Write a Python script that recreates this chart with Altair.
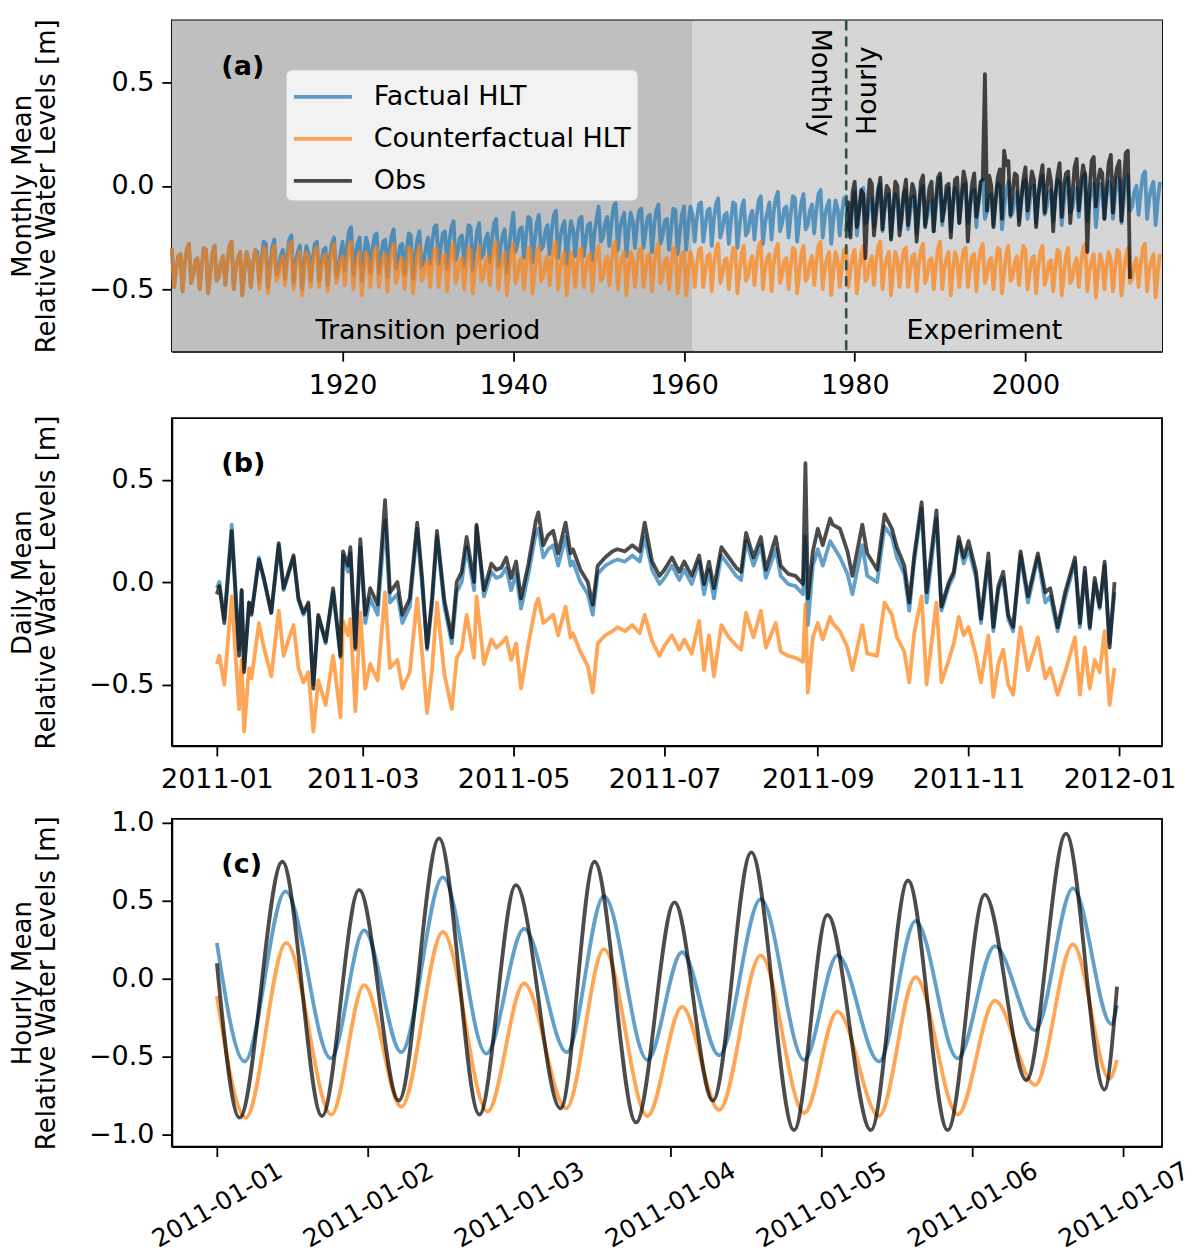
import altair as alt
import numpy as np
import pandas as pd

# ------------------------------------------------------------------ series
SERIES = ["Factual HLT", "Counterfactual HLT", "Obs"]
SERIES_COLORS = ["#1f77b4", "#ff7f0e", "#000000"]

# ---------------- panel (a): monthly means, read at quarterly resolution (one row = one decade)
A_T0 = 1900.0
A_DT = 0.25
factual_a = [
    -0.30, -0.49, -0.41, -0.34, -0.33, -0.51, -0.38, -0.31, -0.28, -0.47, -0.43, -0.36, -0.35, -0.50, -0.39, -0.30, -0.31, -0.52, -0.42, -0.33,
    -0.29, -0.46, -0.44, -0.37, -0.34, -0.48, -0.37, -0.29, -0.27, -0.50, -0.40, -0.35, -0.32, -0.53, -0.41, -0.32, -0.36, -0.49, -0.38, -0.31,
    -0.32, -0.47, -0.36, -0.27, -0.28, -0.49, -0.39, -0.30, -0.26, -0.43, -0.41, -0.34, -0.31, -0.45, -0.34, -0.26, -0.24, -0.47, -0.37, -0.32,
    -0.29, -0.50, -0.38, -0.29, -0.33, -0.46, -0.35, -0.28, -0.27, -0.46, -0.38, -0.31, -0.30, -0.48, -0.35, -0.28, -0.25, -0.44, -0.40, -0.33,
    -0.27, -0.41, -0.30, -0.22, -0.20, -0.43, -0.33, -0.28, -0.25, -0.46, -0.34, -0.25, -0.29, -0.42, -0.31, -0.24, -0.23, -0.42, -0.34, -0.27,
    -0.26, -0.44, -0.31, -0.24, -0.21, -0.40, -0.36, -0.29, -0.28, -0.43, -0.32, -0.23, -0.24, -0.45, -0.35, -0.26, -0.22, -0.39, -0.37, -0.30,
    -0.25, -0.38, -0.27, -0.20, -0.19, -0.38, -0.30, -0.23, -0.22, -0.40, -0.27, -0.20, -0.17, -0.36, -0.32, -0.25, -0.24, -0.39, -0.28, -0.19,
    -0.20, -0.41, -0.31, -0.22, -0.18, -0.35, -0.33, -0.26, -0.23, -0.37, -0.26, -0.18, -0.16, -0.39, -0.29, -0.24, -0.21, -0.42, -0.30, -0.21,
    -0.13, -0.32, -0.28, -0.21, -0.20, -0.35, -0.24, -0.15, -0.16, -0.37, -0.27, -0.18, -0.14, -0.31, -0.29, -0.22, -0.19, -0.33, -0.22, -0.14,
    -0.12, -0.35, -0.25, -0.20, -0.17, -0.38, -0.26, -0.17, -0.21, -0.34, -0.23, -0.16, -0.15, -0.34, -0.26, -0.19, -0.18, -0.36, -0.23, -0.16,
    -0.10, -0.27, -0.25, -0.18, -0.15, -0.29, -0.18, -0.10, -0.08, -0.31, -0.21, -0.16, -0.13, -0.34, -0.22, -0.13, -0.17, -0.30, -0.19, -0.12,
    -0.11, -0.30, -0.22, -0.15, -0.14, -0.32, -0.19, -0.12, -0.09, -0.28, -0.24, -0.17, -0.16, -0.31, -0.20, -0.11, -0.12, -0.33, -0.23, -0.14,
    -0.10, -0.31, -0.19, -0.10, -0.14, -0.27, -0.16, -0.09, -0.08, -0.27, -0.19, -0.12, -0.11, -0.29, -0.16, -0.09, -0.06, -0.25, -0.21, -0.14,
    -0.13, -0.28, -0.17, -0.08, -0.09, -0.30, -0.20, -0.11, -0.07, -0.24, -0.22, -0.15, -0.12, -0.26, -0.15, -0.07, -0.05, -0.28, -0.18, -0.13,
    -0.08, -0.26, -0.13, -0.06, -0.03, -0.22, -0.18, -0.11, -0.10, -0.25, -0.14, -0.05, -0.06, -0.27, -0.17, -0.08, -0.04, -0.21, -0.19, -0.12,
    -0.09, -0.23, -0.12, -0.04, -0.02, -0.25, -0.15, -0.10, -0.07, -0.28, -0.16, -0.07, -0.11, -0.24, -0.13, -0.06, -0.05, -0.24, -0.16, -0.09,
    -0.03, -0.24, -0.14, -0.05, -0.01, -0.18, -0.16, -0.09, -0.06, -0.20, -0.09, -0.01, 0.01, -0.22, -0.12, -0.07, -0.04, -0.25, -0.13, -0.04,
    -0.08, -0.21, -0.10, -0.03, -0.02, -0.21, -0.13, -0.06, -0.05, -0.23, -0.10, -0.03, 0.00, -0.19, -0.15, -0.08, -0.07, -0.22, -0.11, -0.02,
    0.04, -0.19, -0.09, -0.04, -0.01, -0.22, -0.10, -0.01, -0.05, -0.18, -0.07, 0.00, 0.01, -0.18, -0.10, -0.03, -0.02, -0.20, -0.07, 0.00,
    0.03, -0.16, -0.12, -0.05, -0.04, -0.19, -0.08, 0.01, 0.00, -0.21, -0.11, -0.02, 0.02, -0.15, -0.13, -0.06, -0.03, -0.17, -0.06, 0.02,
    0.03, -0.16, -0.08, -0.01, 0.00, -0.18, -0.05, 0.02, 0.05, -0.14, -0.10, -0.03, -0.02, -0.17, -0.06, 0.03, 0.02, -0.19, -0.09, 0.00,
    0.04, -0.13, -0.11, -0.04, -0.01, -0.15, -0.04, 0.04, 0.06, -0.17, -0.07, -0.02, 0.01, -0.20, -0.08, 0.01, -0.03, -0.16, -0.05, 0.02,
    -0.01, -0.16, -0.05, 0.04, 0.03, -0.18, -0.08, 0.01, 0.05, -0.12, -0.10, -0.03, 0.00, -0.14, -0.03, 0.05,
    0.07, -0.16, -0.06, -0.01, 0.02, -0.19, -0.07, 0.02,
]
counter_a = [
    -0.30, -0.49, -0.41, -0.34, -0.33, -0.51, -0.38, -0.31, -0.28, -0.47, -0.43, -0.36, -0.35, -0.50, -0.39, -0.30, -0.31, -0.52, -0.42, -0.33,
    -0.29, -0.46, -0.44, -0.37, -0.34, -0.48, -0.37, -0.29, -0.27, -0.50, -0.40, -0.35, -0.32, -0.53, -0.41, -0.32, -0.36, -0.49, -0.38, -0.31,
    -0.35, -0.50, -0.39, -0.30, -0.31, -0.52, -0.42, -0.33, -0.29, -0.46, -0.44, -0.37, -0.34, -0.48, -0.37, -0.29, -0.27, -0.50, -0.40, -0.35,
    -0.32, -0.53, -0.41, -0.32, -0.36, -0.49, -0.38, -0.31, -0.30, -0.49, -0.41, -0.34, -0.33, -0.51, -0.38, -0.31, -0.28, -0.47, -0.43, -0.36,
    -0.34, -0.48, -0.37, -0.29, -0.27, -0.50, -0.40, -0.35, -0.32, -0.53, -0.41, -0.32, -0.36, -0.49, -0.38, -0.31, -0.30, -0.49, -0.41, -0.34,
    -0.33, -0.51, -0.38, -0.31, -0.28, -0.47, -0.43, -0.36, -0.35, -0.50, -0.39, -0.30, -0.31, -0.52, -0.42, -0.33, -0.29, -0.46, -0.44, -0.37,
    -0.36, -0.49, -0.38, -0.31, -0.30, -0.49, -0.41, -0.34, -0.33, -0.51, -0.38, -0.31, -0.28, -0.47, -0.43, -0.36, -0.35, -0.50, -0.39, -0.30,
    -0.31, -0.52, -0.42, -0.33, -0.29, -0.46, -0.44, -0.37, -0.34, -0.48, -0.37, -0.29, -0.27, -0.50, -0.40, -0.35, -0.32, -0.53, -0.41, -0.32,
    -0.28, -0.47, -0.43, -0.36, -0.35, -0.50, -0.39, -0.30, -0.31, -0.52, -0.42, -0.33, -0.29, -0.46, -0.44, -0.37, -0.34, -0.48, -0.37, -0.29,
    -0.27, -0.50, -0.40, -0.35, -0.32, -0.53, -0.41, -0.32, -0.36, -0.49, -0.38, -0.31, -0.30, -0.49, -0.41, -0.34, -0.33, -0.51, -0.38, -0.31,
    -0.29, -0.46, -0.44, -0.37, -0.34, -0.48, -0.37, -0.29, -0.27, -0.50, -0.40, -0.35, -0.32, -0.53, -0.41, -0.32, -0.36, -0.49, -0.38, -0.31,
    -0.30, -0.49, -0.41, -0.34, -0.33, -0.51, -0.38, -0.31, -0.28, -0.47, -0.43, -0.36, -0.35, -0.50, -0.39, -0.30, -0.31, -0.52, -0.42, -0.33,
    -0.32, -0.53, -0.41, -0.32, -0.36, -0.49, -0.38, -0.31, -0.30, -0.49, -0.41, -0.34, -0.33, -0.51, -0.38, -0.31, -0.28, -0.47, -0.43, -0.36,
    -0.35, -0.50, -0.39, -0.30, -0.31, -0.52, -0.42, -0.33, -0.29, -0.46, -0.44, -0.37, -0.34, -0.48, -0.37, -0.29, -0.27, -0.50, -0.40, -0.35,
    -0.33, -0.51, -0.38, -0.31, -0.28, -0.47, -0.43, -0.36, -0.35, -0.50, -0.39, -0.30, -0.31, -0.52, -0.42, -0.33, -0.29, -0.46, -0.44, -0.37,
    -0.34, -0.48, -0.37, -0.29, -0.27, -0.50, -0.40, -0.35, -0.32, -0.53, -0.41, -0.32, -0.36, -0.49, -0.38, -0.31, -0.30, -0.49, -0.41, -0.34,
    -0.31, -0.52, -0.42, -0.33, -0.29, -0.46, -0.44, -0.37, -0.34, -0.48, -0.37, -0.29, -0.27, -0.50, -0.40, -0.35, -0.32, -0.53, -0.41, -0.32,
    -0.36, -0.49, -0.38, -0.31, -0.30, -0.49, -0.41, -0.34, -0.33, -0.51, -0.38, -0.31, -0.28, -0.47, -0.43, -0.36, -0.35, -0.50, -0.39, -0.30,
    -0.27, -0.50, -0.40, -0.35, -0.32, -0.53, -0.41, -0.32, -0.36, -0.49, -0.38, -0.31, -0.30, -0.49, -0.41, -0.34, -0.33, -0.51, -0.38, -0.31,
    -0.28, -0.47, -0.43, -0.36, -0.35, -0.50, -0.39, -0.30, -0.31, -0.52, -0.42, -0.33, -0.29, -0.46, -0.44, -0.37, -0.34, -0.48, -0.37, -0.29,
    -0.31, -0.50, -0.42, -0.35, -0.34, -0.52, -0.39, -0.32, -0.29, -0.48, -0.44, -0.37, -0.36, -0.51, -0.40, -0.31, -0.32, -0.53, -0.43, -0.34,
    -0.30, -0.47, -0.45, -0.38, -0.35, -0.49, -0.38, -0.30, -0.28, -0.51, -0.41, -0.36, -0.33, -0.54, -0.42, -0.33, -0.37, -0.50, -0.39, -0.32,
    -0.36, -0.51, -0.40, -0.31, -0.32, -0.53, -0.43, -0.34, -0.30, -0.47, -0.45, -0.38, -0.35, -0.49, -0.38, -0.30,
    -0.28, -0.51, -0.41, -0.36, -0.33, -0.54, -0.42, -0.33,
]
# observations: quarterly samples from 1979
OBS_T0 = 1979.0
OBS_DT = 0.25
obs_a = [
    -0.22, -0.08, -0.25, -0.03,   0.02, -0.20, -0.12, -0.02,  -0.04, -0.35, -0.10, 0.03,   0.01, -0.24, -0.14, -0.03,
    0.04, -0.21, -0.09, 0.00,    -0.02, -0.26, -0.12, 0.02,    0.00, -0.24, -0.16, -0.04,   0.03, -0.19, -0.08, 0.01,
    -0.03, -0.27, -0.13, 0.02,    0.05, -0.20, -0.10, -0.01,   0.02, -0.22, -0.07, 0.04,    0.06, -0.17, -0.11, 0.00,
    0.01, -0.25, -0.09, 0.03,     0.04, -0.18, -0.06, 0.07,    0.02, -0.27, -0.10, 0.01,    0.06, -0.15, -0.08, 0.02,
    0.03, 0.54, -0.12, 0.05,      0.00, -0.20, -0.07, 0.04,    0.08, -0.16, 0.17, 0.10,     0.12, -0.14, -0.03, 0.06,
    0.05, -0.19, -0.08, 0.03,     0.09, -0.12, -0.02, 0.07,    0.03, -0.20, -0.06, 0.04,    0.10, -0.13, -0.01, 0.08,
    0.02, -0.22, -0.05, 0.05,     0.11, -0.15, 0.00, 0.06,     0.07, -0.18, -0.04, 0.09,    0.13, -0.12, 0.01, 0.10,
    0.05, -0.32, -0.03, 0.12,     0.14, -0.10, 0.02, 0.08,     0.06, -0.16, -0.02, 0.11,    0.15, -0.13, 0.03, 0.09,
    0.12, -0.17, 0.00, 0.16,      0.17, -0.45,
]
PERIOD_LABELS = ["Transition period", "Experiment"]
PERIOD_START = [1900, 1961]
PERIOD_END = [1961, 2016]
PERIOD_FILL = ["#bfbfbf", "#d6d6d6"]
PERIOD_LABEL_X = [1930, 1995.2]
PERIOD_LABEL_Y = -0.74
SWITCH_YEAR = 1979
SWITCH_LABELS = ["Monthly", "Hourly"]
SWITCH_LABEL_X = [1975.0, 1982.5]

# ---------------- panel (b): daily means in 2011 (day offset from 2011-01-01)
b_day = [
    0, 1, 3, 6, 9, 10, 11, 13, 14, 17,
    19, 22, 25, 27, 29, 31, 33, 35, 37, 39,
    41, 44, 47, 50, 51, 53, 54, 56, 58, 60,
    62, 65, 68, 70, 73, 75, 78, 81, 83, 85,
    87, 89, 92, 95, 97, 99, 101, 104, 105, 108,
    111, 113, 115, 117, 119, 121, 123, 126, 129, 130,
    132, 134, 136, 138, 141, 143, 144, 147, 150, 152,
    154, 157, 160, 162, 165, 168, 171, 173, 176, 179,
    181, 184, 187, 189, 192, 195, 197, 199, 201, 204,
    207, 210, 212, 214, 217, 220, 222, 226, 228, 231,
    234, 237, 238, 239, 241, 243, 245, 248, 249, 252,
    255, 257, 261, 263, 267, 270, 273, 275, 278, 280,
    282, 285, 287, 291, 293, 296, 298, 300, 302, 304,
    307, 309, 312, 314, 316, 318, 320, 322, 325, 328,
    332, 335, 337, 340, 343, 347, 349, 351, 353, 355,
    357, 359, 361, 363,
]
obs_b = [
    -0.06, -0.02, -0.20, 0.25, -0.36, -0.04, -0.44, -0.10, -0.16, 0.11,
    0.02, -0.15, 0.19, -0.03, 0.05, 0.13, -0.08, -0.15, -0.10, -0.52,
    -0.16, -0.29, -0.03, -0.36, 0.15, 0.08, 0.17, -0.32, 0.21, -0.16,
    -0.03, -0.11, 0.40, -0.05, 0.00, -0.16, -0.08, 0.29, 0.02, -0.32,
    -0.08, 0.25, -0.09, -0.27, 0.00, 0.05, 0.22, 0.00, 0.28, -0.04,
    0.09, 0.06, 0.07, 0.12, 0.02, 0.10, -0.08, 0.09, 0.30, 0.34,
    0.18, 0.23, 0.25, 0.14, 0.29, 0.14, 0.16, 0.06, 0.00, -0.11,
    0.08, 0.12, 0.15, 0.16, 0.15, 0.18, 0.15, 0.29, 0.10, 0.03,
    0.06, 0.12, 0.05, 0.10, 0.03, 0.13, -0.01, 0.10, -0.03, 0.17,
    0.12, 0.07, 0.05, 0.24, 0.12, 0.22, 0.06, 0.22, 0.08, 0.04,
    0.03, -0.01, 0.58, -0.08, 0.15, 0.26, 0.18, 0.31, 0.28, 0.26,
    0.15, 0.03, 0.28, 0.14, 0.06, 0.33, 0.26, 0.17, 0.08, -0.10,
    0.13, 0.39, -0.05, 0.35, -0.12, 0.00, 0.05, 0.22, 0.12, 0.20,
    0.05, -0.18, 0.14, -0.22, -0.02, 0.05, -0.16, -0.22, 0.15, -0.07,
    0.14, -0.05, -0.03, -0.22, -0.05, 0.12, -0.20, 0.07, -0.22, 0.02,
    -0.12, 0.10, -0.32, 0.00,
]
factual_b = [
    -0.03, 0.00, -0.18, 0.28, -0.33, -0.04, -0.42, -0.10, -0.15, 0.12,
    0.01, -0.15, 0.18, -0.04, 0.04, 0.12, -0.09, -0.16, -0.11, -0.50,
    -0.17, -0.30, -0.05, -0.37, 0.13, 0.05, 0.14, -0.33, 0.17, -0.20,
    -0.08, -0.16, 0.30, -0.10, -0.06, -0.20, -0.12, 0.26, -0.02, -0.33,
    -0.11, 0.22, -0.12, -0.30, -0.05, 0.00, 0.17, -0.04, 0.27, -0.07,
    0.05, 0.02, 0.03, 0.07, -0.04, 0.04, -0.13, 0.04, 0.24, 0.26,
    0.12, 0.16, 0.18, 0.08, 0.22, 0.08, 0.10, 0.00, -0.06, -0.16,
    0.04, 0.08, 0.10, 0.11, 0.10, 0.13, 0.10, 0.22, 0.06, -0.01,
    0.02, 0.08, 0.01, 0.06, -0.01, 0.10, -0.06, 0.06, -0.08, 0.13,
    0.08, 0.03, 0.01, 0.20, 0.08, 0.18, 0.02, 0.16, 0.03, -0.01,
    -0.02, -0.06, 0.22, -0.21, 0.08, 0.16, 0.08, 0.20, 0.18, 0.12,
    0.04, -0.06, 0.18, 0.03, 0.00, 0.27, 0.22, 0.12, 0.04, -0.14,
    0.10, 0.36, -0.10, 0.31, -0.14, -0.02, 0.03, 0.20, 0.09, 0.16,
    0.02, -0.20, 0.10, -0.24, -0.04, 0.02, -0.18, -0.24, 0.13, -0.10,
    0.12, -0.10, -0.07, -0.24, -0.08, 0.10, -0.22, 0.05, -0.23, 0.00,
    -0.13, 0.08, -0.30, -0.05,
]
counter_b = [
    -0.40, -0.36, -0.50, -0.07, -0.62, -0.38, -0.73, -0.42, -0.47, -0.20,
    -0.32, -0.46, -0.14, -0.36, -0.28, -0.21, -0.42, -0.49, -0.44, -0.73,
    -0.48, -0.60, -0.36, -0.66, -0.19, -0.26, -0.18, -0.63, -0.15, -0.52,
    -0.40, -0.48, -0.05, -0.42, -0.38, -0.52, -0.44, -0.08, -0.35, -0.64,
    -0.43, -0.10, -0.45, -0.62, -0.37, -0.33, -0.16, -0.37, -0.07, -0.40,
    -0.28, -0.32, -0.30, -0.27, -0.38, -0.30, -0.52, -0.30, -0.11, -0.08,
    -0.20, -0.18, -0.16, -0.26, -0.12, -0.27, -0.25, -0.34, -0.41, -0.54,
    -0.30, -0.26, -0.24, -0.22, -0.24, -0.21, -0.25, -0.16, -0.29, -0.36,
    -0.31, -0.26, -0.33, -0.28, -0.35, -0.19, -0.43, -0.26, -0.46, -0.21,
    -0.27, -0.31, -0.33, -0.15, -0.27, -0.14, -0.32, -0.20, -0.34, -0.36,
    -0.37, -0.39, -0.11, -0.54, -0.27, -0.20, -0.28, -0.17, -0.20, -0.24,
    -0.32, -0.43, -0.21, -0.35, -0.36, -0.10, -0.16, -0.27, -0.34, -0.49,
    -0.25, -0.07, -0.50, -0.10, -0.49, -0.38, -0.30, -0.17, -0.26, -0.22,
    -0.36, -0.49, -0.26, -0.56, -0.40, -0.33, -0.50, -0.55, -0.22, -0.43,
    -0.27, -0.47, -0.42, -0.55, -0.44, -0.27, -0.55, -0.32, -0.52, -0.38,
    -0.44, -0.24, -0.60, -0.42,
]

# ---------------- panel (c): hourly means, turning points (hours after 2011-01-01 00:00)
c_obs_hour = [0, 3.6, 10.4, 16.7, 22.6, 28.9, 35.3, 41.7, 47.5, 54.6, 60.0, 66.6, 72.7,
              78.8, 84.9, 91.7, 97.0, 103.9, 109.8, 116.1, 122.0, 128.6, 134.9, 141.0, 143.0]
c_obs = [0.10, -0.89, 0.75, -0.88, 0.57, -0.78, 0.90, -0.87, 0.60, -0.83, 0.75, -0.92, 0.49,
         -0.78, 0.81, -0.97, 0.41, -0.97, 0.63, -0.97, 0.54, -0.65, 0.93, -0.71, -0.05]
c_fac_hour = [0, 4.4, 10.9, 18.1, 23.4, 29.3, 35.9, 42.8, 48.8, 55.6, 61.5, 68.4, 73.9,
              79.8, 86.4, 93.3, 98.6, 105.2, 111.0, 117.7, 123.6, 130.0, 136.0, 142.1, 143.0]
c_fac = [0.23, -0.53, 0.56, -0.51, 0.31, -0.47, 0.65, -0.48, 0.32, -0.47, 0.53, -0.52, 0.17,
         -0.49, 0.51, -0.52, 0.15, -0.53, 0.37, -0.51, 0.21, -0.33, 0.58, -0.29, -0.17]
c_cf_hour = [0, 4.6, 11.0, 18.2, 23.4, 29.3, 35.9, 43.0, 48.8, 55.5, 61.5, 68.4, 73.9,
             79.8, 86.4, 93.3, 98.6, 105.2, 111.0, 117.7, 123.6, 130.0, 136.0, 141.8, 143.0]
c_cf = [-0.11, -0.89, 0.23, -0.87, -0.04, -0.82, 0.30, -0.85, -0.03, -0.83, 0.19, -0.88, -0.18,
        -0.84, 0.15, -0.86, -0.21, -0.88, 0.01, -0.87, -0.14, -0.68, 0.22, -0.64, -0.52]

# ------------------------------------------------------------------ layout / style
W = 991
HA, HB, HC = 331, 328, 328
LW = 3.8
ALPHA = 0.7
FONT = "DejaVu Sans"
FS = 27          # tick labels, legend, annotations
FS_TITLE = 26    # axis titles
FS_ROT = 25      # rotated date labels of panel (c)
PANEL_LABEL_POS = (0.05, 0.1)  # axes fraction (left, from top)

color_scale = alt.Scale(domain=SERIES, range=SERIES_COLORS)

# ------------------------------------------------------------------ frames
def frame_year(values, t0, dt, name):
    t = t0 + dt * np.arange(len(values))
    return pd.DataFrame({"t": t, "v": values, "series": name})


def frame_time(offsets, values, unit, name):
    d = pd.Timestamp("2011-01-01") + pd.to_timedelta(offsets, unit=unit)
    return pd.DataFrame({"date": d, "v": values, "series": name})


df_a = [frame_year(factual_a, A_T0, A_DT, SERIES[0]),
        frame_year(counter_a, A_T0, A_DT, SERIES[1]),
        frame_year(obs_a, OBS_T0, OBS_DT, SERIES[2])]
df_b = [frame_time(b_day, factual_b, "D", SERIES[0]),
        frame_time(b_day, counter_b, "D", SERIES[1]),
        frame_time(b_day, obs_b, "D", SERIES[2])]
df_c = [frame_time(c_fac_hour, c_fac, "h", SERIES[0]),
        frame_time(c_cf_hour, c_cf, "h", SERIES[1]),
        frame_time(c_obs_hour, c_obs, "h", SERIES[2])]

df_periods = pd.DataFrame({"t": PERIOD_START, "t_end": PERIOD_END, "fill": PERIOD_FILL})
df_period_labels = pd.DataFrame({"t": PERIOD_LABEL_X, "v": [PERIOD_LABEL_Y] * 2, "label": PERIOD_LABELS})
df_switch = pd.DataFrame({"t": [SWITCH_YEAR]})


def panel_label(text, h):
    return alt.Chart(pd.DataFrame({"label": [text]})).mark_text(
        font=FONT, fontSize=FS, fontWeight="bold", align="left", baseline="top", color="black"
    ).encode(x=alt.value(PANEL_LABEL_POS[0] * W), y=alt.value(PANEL_LABEL_POS[1] * h), text="label:N")


def ytitle(first):
    return [first, "Relative Water Levels [m]"]


# ------------------------------------------------------------------ panel (a)
legend_a = alt.Legend(
    title=None, orient="none", legendX=114, legendY=49,
    fillColor="#f2f2f2", strokeColor="#cccccc", cornerRadius=6, padding=6,
    symbolType="M-1,0L2,0", symbolSize=1498, symbolStrokeWidth=LW, symbolOpacity=ALPHA,
    labelFont=FONT, labelFontSize=FS, labelColor="black", labelOffset=39, labelLimit=400,
    rowPadding=7,
)
xa = alt.X("t:Q", scale=alt.Scale(domain=[1900, 2016], nice=False, zero=False),
           axis=alt.Axis(values=[1920, 1940, 1960, 1980, 2000], format="d", title=None, labelPadding=11))
ya = alt.Y("v:Q", scale=alt.Scale(domain=[-0.8, 0.8], nice=False, zero=False),
           axis=alt.Axis(values=[-0.5, 0.0, 0.5], format=".1f", title=ytitle("Monthly Mean")))
ca = alt.Color("series:N", scale=color_scale, legend=legend_a)

bg = alt.Chart(df_periods).mark_rect(strokeWidth=0).encode(
    x=xa, x2="t_end:Q", y=alt.value(0), y2=alt.value(HA), fill=alt.Fill("fill:N", scale=None))
lines_a = [alt.Chart(d).mark_line(strokeWidth=LW, opacity=ALPHA, strokeJoin="round").encode(x=xa, y=ya, color=ca)
           for d in df_a]
period_text = alt.Chart(df_period_labels).mark_text(
    font=FONT, fontSize=FS, align="center", baseline="alphabetic", color="black"
).encode(x=xa, y=ya, text="label:N")
switch_rule = alt.Chart(df_switch).mark_rule(color="#2f4f4f", strokeDash=[10, 6], strokeWidth=2.6).encode(x=xa)
switch_month = alt.Chart(pd.DataFrame({"t": [SWITCH_LABEL_X[0]], "label": [SWITCH_LABELS[0]]})).mark_text(
    font=FONT, fontSize=FS, angle=90, align="left", baseline="alphabetic", color="black"
).encode(x=xa, y=alt.value(8), text="label:N")
switch_hour = alt.Chart(pd.DataFrame({"t": [SWITCH_LABEL_X[1]], "label": [SWITCH_LABELS[1]]})).mark_text(
    font=FONT, fontSize=FS, angle=270, align="right", baseline="alphabetic", color="black"
).encode(x=xa, y=alt.value(26), text="label:N")

panel_a = alt.layer(bg, *lines_a, period_text, switch_rule, switch_month, switch_hour,
                    panel_label("(a)", HA)).properties(width=W, height=HA)

# ------------------------------------------------------------------ panel (b)
xb = alt.X("date:T",
           scale=alt.Scale(domain=[alt.DateTime(year=2010, month=12, date=13, hours=19),
                                   alt.DateTime(year=2012, month=1, date=18, hours=5)]),
           axis=alt.Axis(values=[alt.DateTime(year=2011, month=m, date=1) for m in (1, 3, 5, 7, 9, 11)]
                         + [alt.DateTime(year=2012, month=1, date=1)],
                         format="%Y-%m", title=None, labelOverlap=False, labelFlush=False, labelPadding=11))
yb = alt.Y("v:Q", scale=alt.Scale(domain=[-0.8, 0.8], nice=False, zero=False),
           axis=alt.Axis(values=[-0.5, 0.0, 0.5], format=".1f", title=ytitle("Daily Mean")))
cnl = alt.Color("series:N", scale=color_scale, legend=None)
lines_b = [alt.Chart(d).mark_line(strokeWidth=LW, opacity=ALPHA, strokeJoin="round").encode(x=xb, y=yb, color=cnl)
           for d in df_b]
panel_b = alt.layer(*lines_b, panel_label("(b)", HB)).properties(width=W, height=HB)

# ------------------------------------------------------------------ panel (c)
xc = alt.X("date:T",
           scale=alt.Scale(domain=[alt.DateTime(year=2010, month=12, date=31, hours=16, minutes=51),
                                   alt.DateTime(year=2011, month=1, date=7, hours=6, minutes=9)]),
           axis=alt.Axis(values=[alt.DateTime(year=2011, month=1, date=d) for d in range(1, 8)],
                         format="%Y-%m-%d", title=None, labelAngle=330, labelAlign="center",
                         labelBaseline="middle", labelPadding=48, labelFontSize=FS_ROT,
                         labelOverlap=False, labelFlush=False))
yc = alt.Y("v:Q", scale=alt.Scale(domain=[-1.075, 1.025], nice=False, zero=False),
           axis=alt.Axis(values=[-1.0, -0.5, 0.0, 0.5, 1.0], format=".1f", title=ytitle("Hourly Mean")))
lines_c = [alt.Chart(d).mark_line(strokeWidth=LW, opacity=ALPHA, strokeJoin="round", interpolate="monotone")
           .encode(x=xc, y=yc, color=cnl) for d in df_c]
panel_c = alt.layer(*lines_c, panel_label("(c)", HC)).properties(width=W, height=HC)

# ------------------------------------------------------------------ assemble
chart = alt.vconcat(panel_a, panel_b, panel_c, spacing=14).resolve_scale(
    color="independent", x="independent", y="independent"
).properties(
    padding={"left": 0, "top": 9, "right": 0, "bottom": 0}
).configure(font=FONT).configure_view(
    stroke="black", strokeWidth=1.8
).configure_axis(
    grid=False, domainColor="black", domainWidth=1.8, tickColor="black", tickWidth=1.8, tickSize=10,
    labelFont=FONT, labelFontSize=FS, labelColor="black", labelPadding=8,
    titleFont=FONT, titleFontSize=FS_TITLE, titleFontWeight="normal", titleColor="black",
    titlePadding=29, titleLineHeight=24,
)

chart.save("out.html", embed_options={"renderer": "svg", "actions": False})
